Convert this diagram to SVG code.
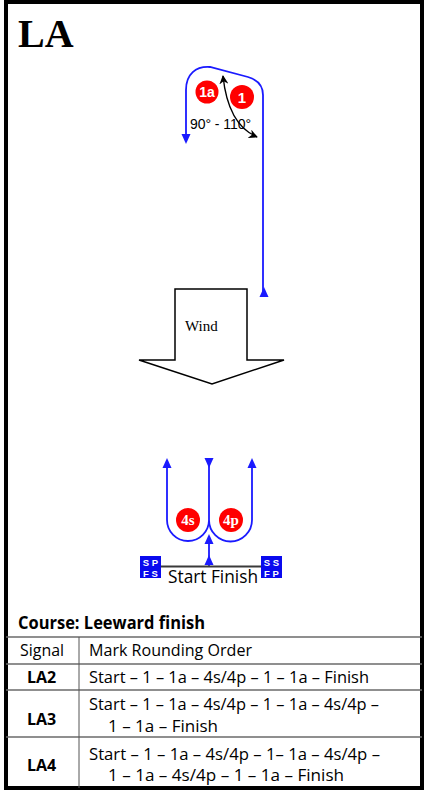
<svg xmlns="http://www.w3.org/2000/svg" width="428" height="795" viewBox="0 0 428 795">
<style>
.course{fill:none;stroke:#1a1aff;stroke-width:1.8}
.ah{fill:#1a1aff}
.mark{fill:#ff0000}
.mtxt{fill:#fff;font-family:"Liberation Sans",Arial,sans-serif;font-weight:bold;text-anchor:middle}
.mtxt2{fill:#fff;font-family:"Liberation Serif","Times New Roman",serif;font-weight:bold;text-anchor:middle;font-size:15px}
.flag{fill:#0a0aee}
.ftxt{fill:#fff;font-family:"Liberation Sans",Arial,sans-serif;font-weight:bold;font-size:9.5px;text-anchor:middle}
.tb{font-family:"Open Sans","Liberation Sans",sans-serif;font-size:16px;fill:#000}
.tbb{font-family:"Open Sans","Liberation Sans",sans-serif;font-size:16px;font-weight:bold;fill:#000;text-anchor:middle}
.rule{stroke:#6a6a6a;stroke-width:1.5}
</style>
<defs>
<path id="tri-up" d="M0,0 L4.5,10 L-4.5,10 Z"/>
<path id="tri-down" d="M0,0 L4.5,-10 L-4.5,-10 Z"/>
<marker id="blk" viewBox="0 0 10 10" refX="9" refY="5" markerWidth="9" markerHeight="9" markerUnits="userSpaceOnUse" orient="auto-start-reverse">
<path d="M0,0 L10,5 L0,10 L3,5 Z" fill="#000"/>
</marker>
</defs>
<rect x="0" y="0" width="428" height="795" fill="#fff"/>
<rect id="frame" x="6" y="2" width="416" height="786" fill="none" stroke="#000" stroke-width="4"/>
<g id="title"><text x="18" y="47" font-family="Liberation Serif,'Times New Roman',serif" font-weight="bold" font-size="40">LA</text></g>

<g id="connectors">
<path class="course" d="M186,136 V90 C186,74 196,66 210,67 L248,77 C258,80 263,86 263,95 V296"/>
<use href="#tri-down" x="186" y="144" class="ah"/>
<use href="#tri-up" x="264" y="287" class="ah"/>
<path d="M223,76 C226,105 236,128 257,137" fill="none" stroke="#000" stroke-width="1.4" marker-start="url(#blk)" marker-end="url(#blk)"/>
<path class="course" d="M167,466 V520 A21,21 0 0 0 209,520 A21.5,21.5 0 0 0 252,520 V466 M209,460 V520 M209,566 V540"/>
<use href="#tri-up" x="167" y="458" class="ah"/>
<use href="#tri-up" x="252" y="458" class="ah"/>
<use href="#tri-down" x="209" y="468" class="ah"/>
<use href="#tri-up" x="209" y="534" class="ah"/>
<use href="#tri-up" x="209" y="555" class="ah"/>
</g>

<g id="mark-1a"><circle class="mark" cx="207" cy="92" r="11.5"/><text class="mtxt" x="207" y="97" font-size="14">1a</text></g>
<g id="mark-1"><circle class="mark" cx="242" cy="97" r="12"/><text class="mtxt" x="242" y="102.5" font-size="15">1</text></g>
<g id="angle-label"><text x="190" y="129" font-family="Liberation Sans,Arial,sans-serif" font-size="14" textLength="61">90° - 110°</text></g>

<g id="wind">
<polygon points="175,289 247,289 247,360 284,360 212,384 139,360 175,360" fill="#fff" stroke="#000" stroke-width="1.5"/>
<text x="185" y="331" font-family="Liberation Serif,'Times New Roman',serif" font-size="15">Wind</text>
</g>

<g id="mark-4s"><circle class="mark" cx="188" cy="520" r="12"/><text class="mtxt2" x="188" y="525">4s</text></g>
<g id="mark-4p"><circle class="mark" cx="231" cy="520" r="12"/><text class="mtxt2" x="231" y="525">4p</text></g>

<g id="start-finish">
<line x1="161" y1="566.5" x2="262" y2="566.5" stroke="#3a3a3a" stroke-width="2"/>
<text x="168" y="583" font-family="'Open Sans','Liberation Sans',sans-serif" font-size="17.5" textLength="90" lengthAdjust="spacingAndGlyphs">Start Finish</text>
</g>
<g id="flag-left"><rect class="flag" x="140" y="556" width="21" height="22"/><text class="ftxt" x="150.5" y="565.5">S P</text><text class="ftxt" x="150.5" y="576.5">F S</text></g>
<g id="flag-right"><rect class="flag" x="261" y="556" width="21" height="22"/><text class="ftxt" x="271.5" y="565.5">S S</text><text class="ftxt" x="271.5" y="576.5">F P</text></g>

<g id="table">
<text x="18" y="629" font-family="'Open Sans','Liberation Sans',sans-serif" font-size="17.5" font-weight="bold" textLength="187" lengthAdjust="spacingAndGlyphs">Course: Leeward finish</text>
<line class="rule" x1="6" y1="637" x2="422" y2="637"/>
<line class="rule" x1="6" y1="664" x2="422" y2="664"/>
<line class="rule" x1="6" y1="690" x2="422" y2="690"/>
<line class="rule" x1="6" y1="737" x2="422" y2="737"/>
<line x1="79" y1="637" x2="79" y2="788" stroke="#555" stroke-width="1"/>
<text class="tb" x="20" y="656" textLength="44" lengthAdjust="spacingAndGlyphs">Signal</text>
<text class="tb" x="89" y="656" textLength="163" lengthAdjust="spacingAndGlyphs">Mark Rounding Order</text>
<text class="tbb" x="41.5" y="683">LA2</text>
<text class="tb" x="89" y="683" textLength="280" lengthAdjust="spacingAndGlyphs">Start – 1 – 1a – 4s/4p – 1 – 1a – Finish</text>
<text class="tbb" x="41.5" y="725">LA3</text>
<text class="tb" x="89" y="710" textLength="290" lengthAdjust="spacingAndGlyphs">Start – 1 – 1a – 4s/4p – 1 – 1a – 4s/4p –</text>
<text class="tb" x="108" y="732" textLength="110" lengthAdjust="spacingAndGlyphs">1 – 1a  – Finish</text>
<text class="tbb" x="41.5" y="771">LA4</text>
<text class="tb" x="89" y="760" textLength="291" lengthAdjust="spacingAndGlyphs">Start – 1 – 1a – 4s/4p – 1– 1a  – 4s/4p –</text>
<text class="tb" x="108" y="781" textLength="236" lengthAdjust="spacingAndGlyphs">1 – 1a –  4s/4p – 1 – 1a – Finish</text>
</g>
</svg>
